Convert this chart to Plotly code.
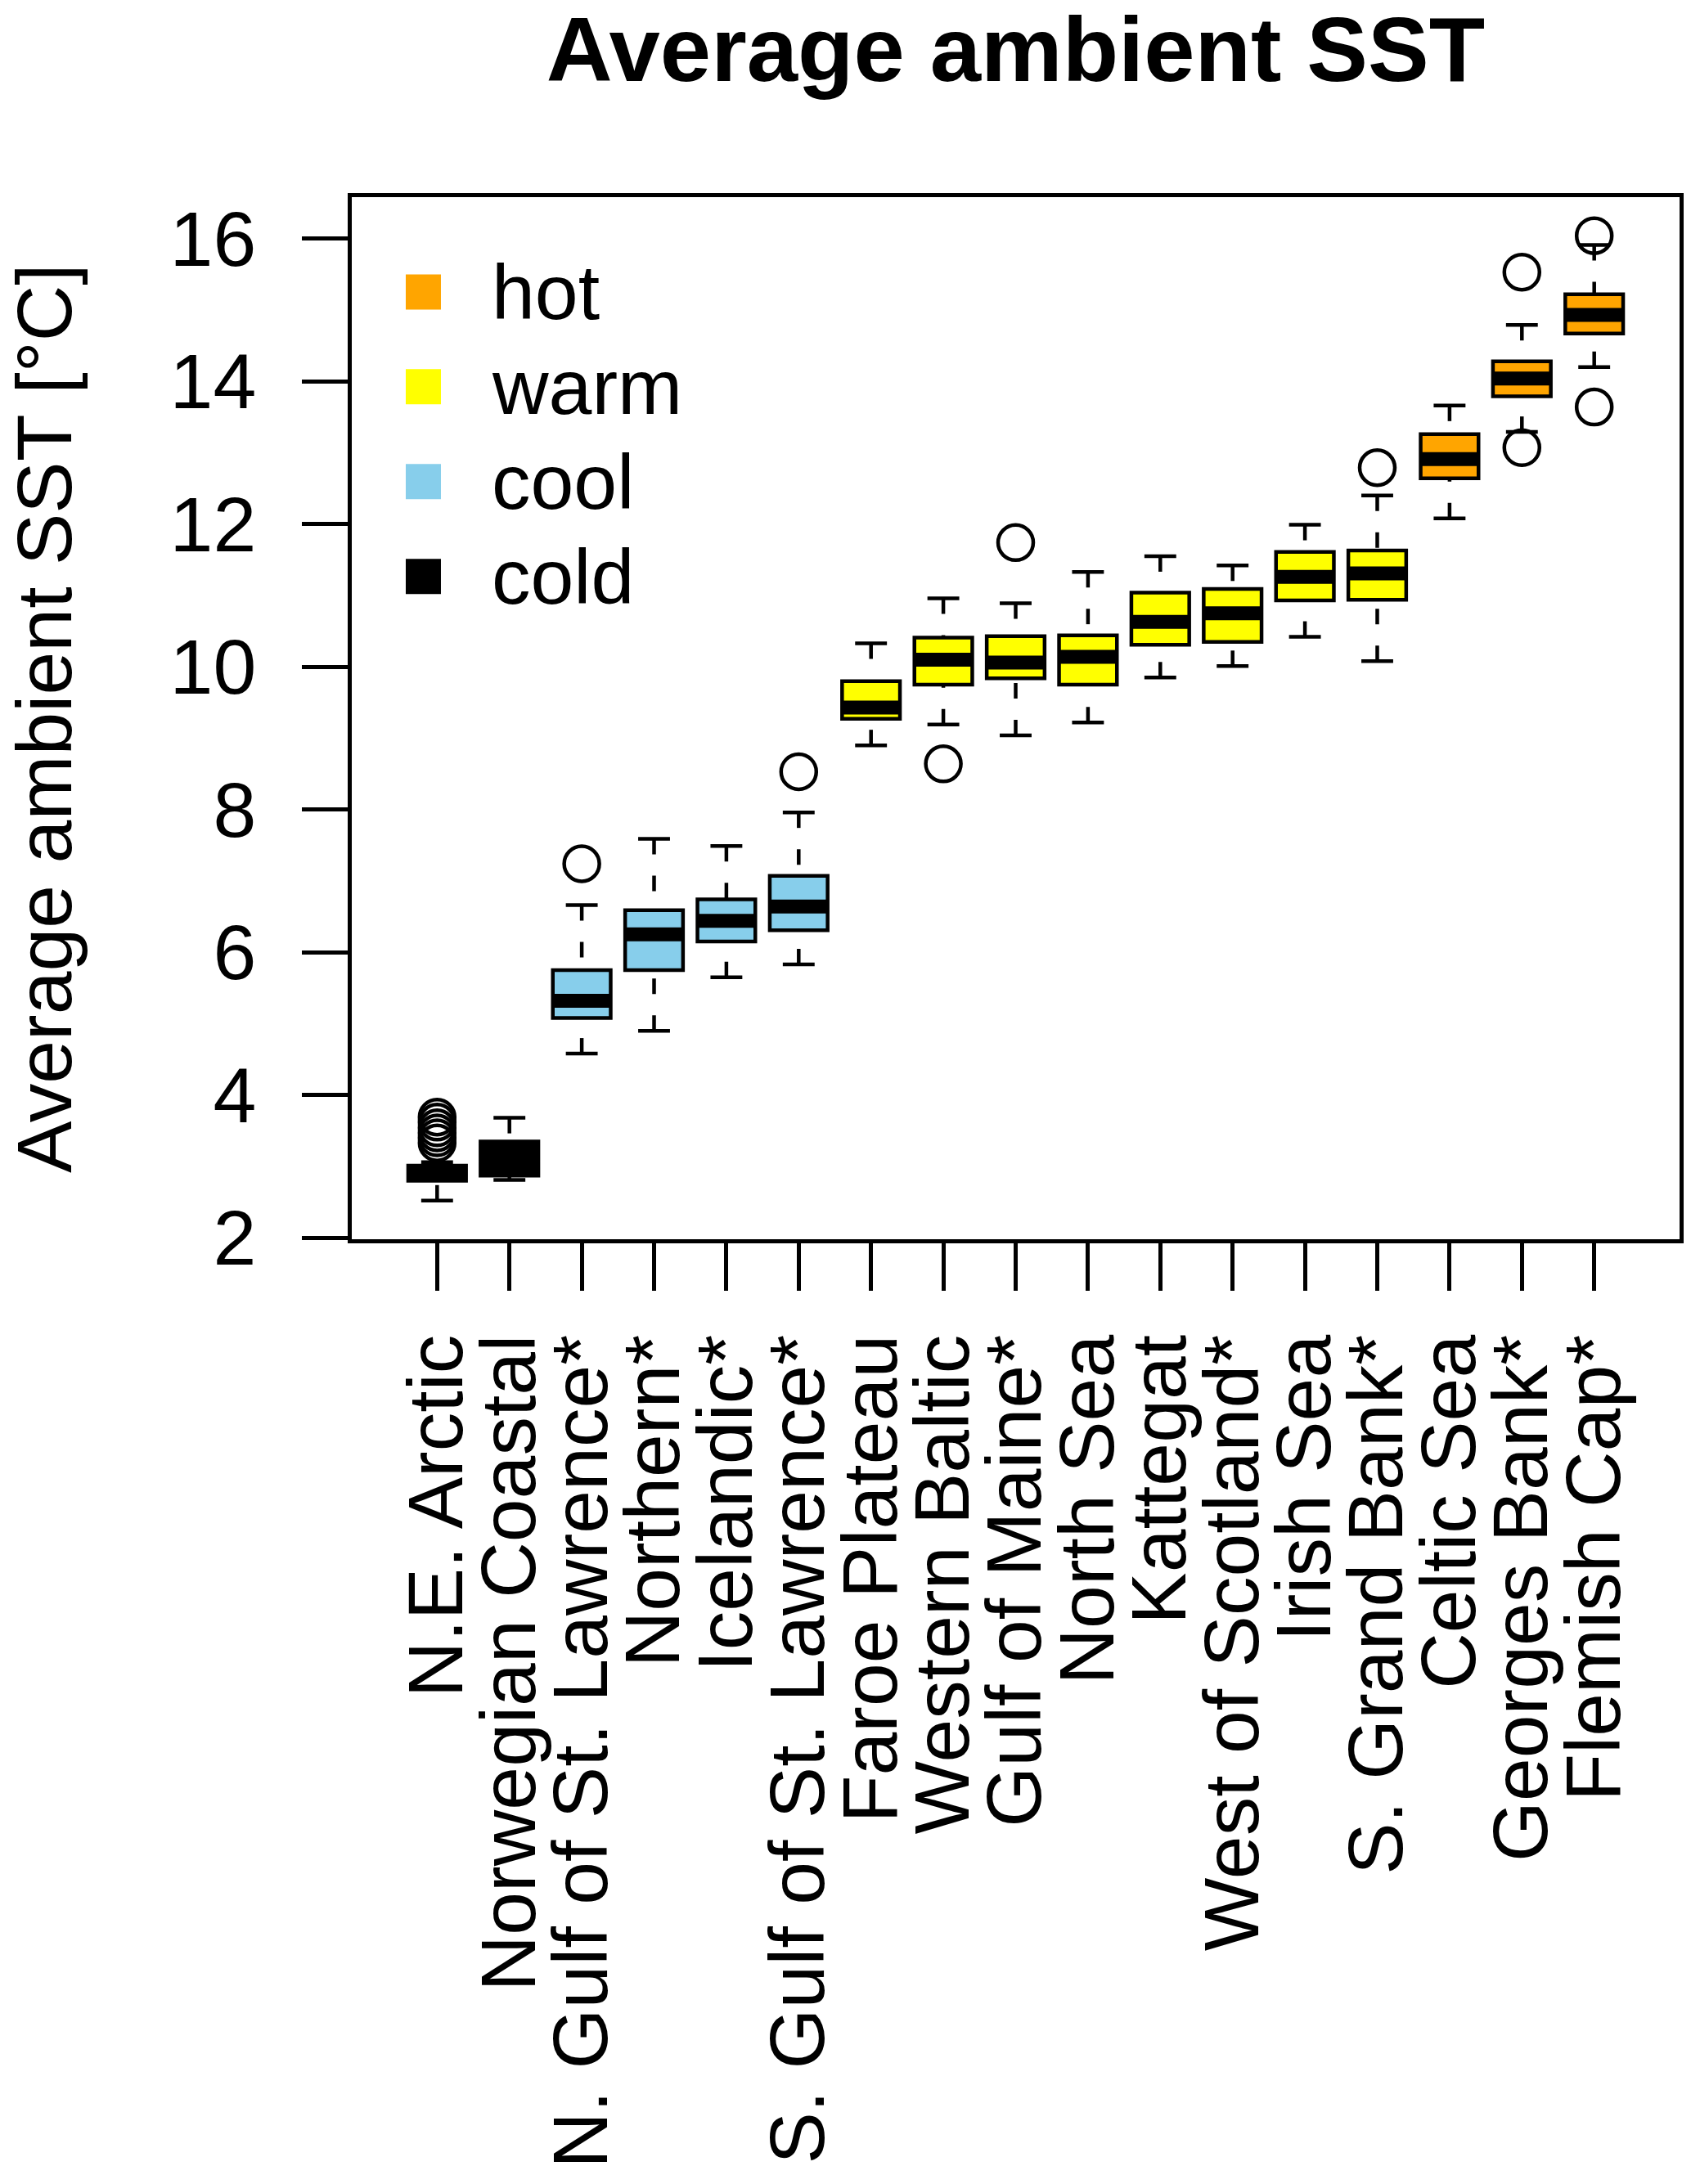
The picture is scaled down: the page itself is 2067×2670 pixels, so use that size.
import plotly.graph_objects as go

regions = ["N.E. Arctic", "Norwegian Coastal", "N. Gulf of St. Lawrence*", "Northern*",
           "Icelandic*", "S. Gulf of St. Lawrence*", "Faroe Plateau", "Western Baltic",
           "Gulf of Maine*", "North Sea", "Kattegat", "West of Scotland*", "Irish Sea",
           "S. Grand Bank*", "Celtic Sea", "Georges Bank*", "Flemish Cap*"]
category = ["cold", "cold", "cool", "cool", "cool", "cool", "warm", "warm", "warm",
            "warm", "warm", "warm", "warm", "warm", "hot", "hot", "hot"]

lower_whisker = [2.52, 2.81, 4.58, 4.90, 5.65, 5.83, 8.90, 9.19, 9.04, 9.22, 9.85,
                 10.01, 10.42, 10.08, 12.08, 13.29, 14.20]
q1 = [2.80, 2.87, 5.08, 5.75, 6.15, 6.31, 9.27, 9.75, 9.84, 9.75, 10.31, 10.35,
      10.93, 10.94, 12.64, 13.79, 14.67]
median = [2.90, 3.10, 5.32, 6.25, 6.44, 6.64, 9.43, 10.10, 10.06, 10.14, 10.63,
          10.75, 11.26, 11.31, 12.91, 14.04, 14.93]
q3 = [3.01, 3.35, 5.75, 6.59, 6.74, 7.07, 9.80, 10.41, 10.43, 10.44, 11.04, 11.09,
      11.61, 11.63, 13.26, 14.28, 15.22]
upper_whisker = [3.06, 3.68, 6.66, 7.59, 7.49, 7.96, 10.33, 10.96, 10.89, 11.33,
                 11.55, 11.42, 11.99, 12.40, 13.66, 14.79, 15.91]
outliers = [[3.33, 3.40, 3.47, 3.54, 3.62, 3.69], [], [7.24], [], [], [8.53], [],
            [8.64], [11.74], [], [], [], [], [12.79], [], [13.07, 15.53], [13.64, 16.04]]

legend_classes = ["hot", "warm", "cool", "cold"]
class_colors = {"hot": "#FFA500", "warm": "#FFFF00", "cool": "#87CEEB", "cold": "#000000"}
y_ticks = [2, 4, 6, 8, 10, 12, 14, 16]

FONT = "Liberation Sans, Arial, Helvetica, sans-serif"
LW = 4.5
BOXW = 0.8

positions = list(range(1, len(regions) + 1))

fig = go.Figure()

# boxes
for p, c, a, m, b in zip(positions, category, q1, median, q3):
    fig.add_trace(go.Box(
        x=[p], q1=[a], median=[m], q3=[b], lowerfence=[a], upperfence=[b],
        width=BOXW, whiskerwidth=0, fillcolor=class_colors[c],
        line=dict(color="black", width=LW), boxpoints=False,
        showlegend=False, hoverinfo="skip"))

# thick medians
for p, m in zip(positions, median):
    fig.add_trace(go.Scatter(
        x=[p - BOXW / 2, p + BOXW / 2], y=[m, m], mode="lines",
        line=dict(color="black", width=17), showlegend=False, hoverinfo="skip"))

# dashed whiskers (drawn from the staple toward the box)
for p, lw, a, b, uw in zip(positions, lower_whisker, q1, q3, upper_whisker):
    for y0, y1 in ((lw, a), (uw, b)):
        fig.add_trace(go.Scatter(
            x=[p, p], y=[y0, y1], mode="lines",
            line=dict(color="black", width=LW, dash="19px,26px"),
            showlegend=False, hoverinfo="skip"))

# staples
sx, sy = [], []
for p, lw, uw in zip(positions, lower_whisker, upper_whisker):
    for v in (lw, uw):
        sx += [p - 0.22, p + 0.22, None]
        sy += [v, v, None]
fig.add_trace(go.Scatter(x=sx, y=sy, mode="lines",
                         line=dict(color="black", width=LW),
                         showlegend=False, hoverinfo="skip"))

# outliers
ox, oy = [], []
for p, outs in zip(positions, outliers):
    for v in outs:
        ox.append(p)
        oy.append(v)
fig.add_trace(go.Scatter(x=ox, y=oy, mode="markers",
                         marker=dict(symbol="circle-open", size=43, color="black",
                                     line=dict(width=LW, color="black")),
                         showlegend=False, hoverinfo="skip"))

# axis ranges like R defaults (4% extension)
all_vals = lower_whisker + upper_whisker + [v for o in outliers for v in o]
ymin, ymax = min(all_vals), max(all_vals)
yr = [ymin - 0.04 * (ymax - ymin), ymax + 0.04 * (ymax - ymin)]
n = len(regions)
xr = [0.5 - 0.04 * n, n + 0.5 + 0.04 * n]

# legend (manual, large squares)
shapes = []
annotations = []
leg_y = [0.909, 0.818, 0.727, 0.636]
for name, yy in zip(legend_classes, leg_y):
    shapes.append(dict(type="rect", xref="paper", yref="paper",
                       xsizemode="pixel", ysizemode="pixel",
                       xanchor=0.0539, yanchor=yy, x0=-21.5, x1=21.5, y0=-21.5, y1=21.5,
                       fillcolor=class_colors[name], line=dict(width=0)))
    annotations.append(dict(text=name, xref="paper", yref="paper", x=0.1041, y=yy,
                            xanchor="left", yanchor="middle", showarrow=False,
                            font=dict(family=FONT, size=95, color="black")))

# y axis title
annotations.append(dict(text="Average ambient SST [°C]", xref="paper", yref="paper",
                        x=-0.2317, y=0.5, xanchor="center", yanchor="middle",
                        textangle=-90, showarrow=False,
                        font=dict(family=FONT, size=95, color="black")))

fig.update_layout(
    width=2067, height=2670,
    margin=dict(l=422, r=22, t=233, b=1163),
    paper_bgcolor="white", plot_bgcolor="white",
    template="none",
    title=dict(text="Average ambient SST", x=0.5, xref="paper", xanchor="center",
               y=1 - 52 / 2670, yref="container", yanchor="middle",
               font=dict(family=FONT, size=112, color="black", weight="bold")),
    shapes=shapes, annotations=annotations,
    showlegend=False,
    xaxis=dict(range=xr, tickmode="array", tickvals=positions, ticktext=regions,
               tickangle=-90, ticks="outside", ticklen=58, tickwidth=LW, tickcolor="black",
               ticklabelstandoff=16,
               showline=True, linecolor="black", linewidth=LW, mirror=True,
               showgrid=False, zeroline=False, automargin=False,
               tickfont=dict(family=FONT, size=95, color="black")),
    yaxis=dict(range=yr, tickmode="array", tickvals=y_ticks, ticktext=[str(v) for v in y_ticks],
               ticks="outside", ticklen=56, tickwidth=LW, tickcolor="black",
               ticklabelstandoff=37,
               showline=True, linecolor="black", linewidth=LW, mirror=True,
               showgrid=False, zeroline=False, automargin=False,
               tickfont=dict(family=FONT, size=95, color="black")),
)

fig.write_html("out.html")
